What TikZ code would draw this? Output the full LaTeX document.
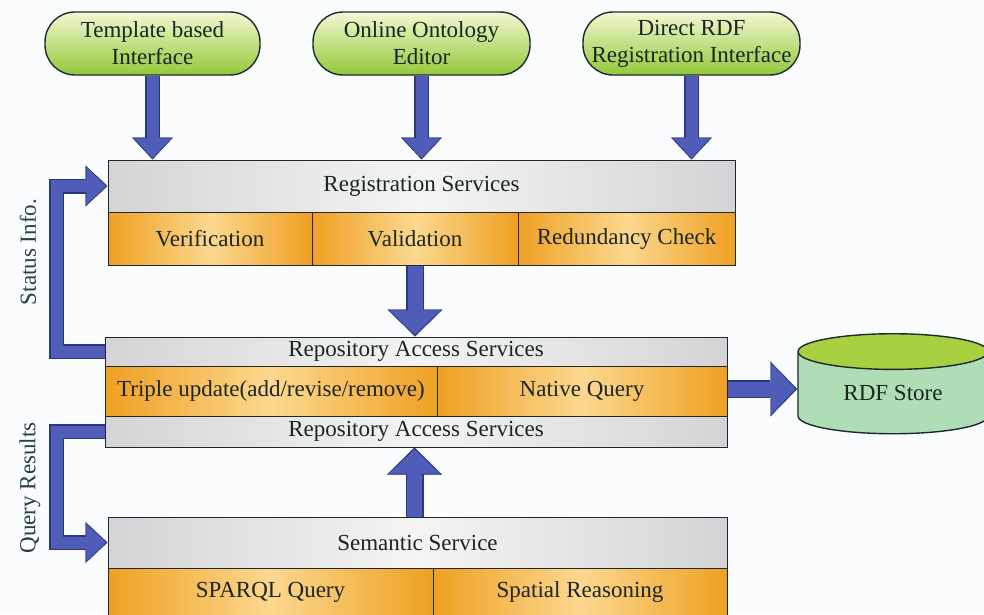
\documentclass[tikz,border=0pt]{standalone}
\usepackage{fontspec}
\setmainfont{Liberation Serif}
\usetikzlibrary{arrows.meta,shapes.geometric,calc}

\definecolor{arrfill}{HTML}{4F5DB8}
\definecolor{arrline}{HTML}{2B3782}
\definecolor{greyL}{HTML}{F4F4F5}
\definecolor{greyD}{HTML}{D4D4D6}
\definecolor{orD}{HTML}{EFA022}
\definecolor{orL}{HTML}{FCD88F}
\definecolor{grT}{HTML}{F2F8D2}
\definecolor{grB}{HTML}{94C83A}
\definecolor{cylTop}{HTML}{A8D040}
\definecolor{cylBody}{HTML}{AEDDB6}
\definecolor{edge}{HTML}{1C2A2E}
\definecolor{txt}{HTML}{1A2622}
\definecolor{labtxt}{HTML}{24404A}
\definecolor{bg}{HTML}{FBFCFD}

\begin{document}
\begin{tikzpicture}[x=1pt,y=-1pt,
  font=\fontsize{23}{27}\selectfont,
  every node/.style={text=txt, inner sep=0pt},
  greenbox/.style={draw=edge, line width=1.4pt, rounded corners=30pt,
    top color=grT, bottom color=grB, minimum height=63pt, align=center},
  greybar/.style={draw=edge, line width=1pt, left color=greyD, right color=greyD,
    middle color=greyL},
  orcell/.style={draw=edge, line width=1pt, left color=orD, right color=orD,
    middle color=orL},
  sarrow/.style={line join=miter,
    preaction={draw=arrline, line width=15pt, shorten >=0pt,
      -{Triangle[width=41pt,length=22pt,line width=0.4pt]}},
    draw=arrfill, line width=12pt, shorten >=1.6pt,
    -{Triangle[width=37pt,length=19.5pt,line width=0.4pt]}},
  barrow/.style={line join=miter,
    preaction={draw=arrline, line width=18pt, shorten >=0pt,
      -{Triangle[width=55pt,length=27pt,line width=0.4pt]}},
    draw=arrfill, line width=15pt, shorten >=1.8pt,
    -{Triangle[width=51pt,length=24.5pt,line width=0.4pt]}}
]
\useasboundingbox (0,0) rectangle (984,614);
\clip (0,0) rectangle (984,614);
\fill[bg] (0,0) rectangle (984,614);

% top interface boxes
\node[greenbox, minimum width=215pt] (tb1) at (152.5,43.5) {Template based\\Interface};
\node[greenbox, minimum width=217pt] (tb2) at (421.5,43.5) {Online Ontology\\Editor};
\node[greenbox, minimum width=217pt] (tb3) at (691.5,43.5) {Direct RDF\\Registration Interface};

% registration services
\node[greybar, minimum width=627pt, minimum height=52pt] (reg) at (421.5,186) {Registration Services};
\node[orcell, minimum width=204pt, minimum height=53pt] (ver) at (210,238.5) {Verification};
\node[orcell, minimum width=206pt, minimum height=53pt] (val) at (415,238.5) {Validation};
\node[orcell, minimum width=217pt, minimum height=53pt] (red) at (626.5,238.5) {Redundancy Check};

% repository access services
\node[greybar, minimum width=622pt, minimum height=29pt] (rtop) at (416,351.5) {Repository Access Services};
\node[orcell, minimum width=332pt, minimum height=50pt] (trip) at (271,391) {Triple update(add/revise/remove)};
\node[orcell, minimum width=290pt, minimum height=50pt] (nat) at (582,391) {Native Query};
\node[greybar, minimum width=622pt, minimum height=31pt] (rbot) at (416,431.5) {Repository Access Services};

% semantic service
\node[greybar, minimum width=619pt, minimum height=51pt] (sem) at (417.5,542.5) {Semantic Service};
\node[orcell, minimum width=325pt, minimum height=48pt] (spq) at (270.5,592) {SPARQL Query};
\node[orcell, minimum width=294pt, minimum height=48pt] (spr) at (580,592) {Spatial Reasoning};

% RDF store
\node[cylinder, shape border rotate=90, aspect=0.36, draw=edge, line width=1.4pt,
  minimum width=190pt, minimum height=100pt,
  cylinder uses custom fill, cylinder end fill=cylTop, cylinder body fill=cylBody]
  (rdf) at (893,393) {RDF Store};

% side labels
\node[rotate=90, text=labtxt] (slab) at (28,252) {Status Info.};
\node[rotate=90, text=labtxt] (qlab) at (30,488) {Query Results};

% arrows
\draw[sarrow] (tb1.south) -- (tb1.south |- reg.north);
\draw[sarrow] (tb2.south) -- (tb2.south |- reg.north);
\draw[sarrow] (tb3.south) -- (tb3.south |- reg.north);
\draw[barrow] (val.south) -- (val.south |- rtop.north);
\draw[barrow] ([xshift=-3pt]sem.north) -- ([xshift=-3pt]sem.north |- rbot.south);
\draw[barrow] ([yshift=2pt]nat.east) -- ([yshift=2pt]nat.east -| rdf.west);
\draw[sarrow] (rtop.west) -| ([xshift=-51pt]reg.west) -- (reg.west);
\draw[sarrow] (rbot.west) -| ([xshift=-51pt]sem.west) -- (sem.west);
\end{tikzpicture}
\end{document}
